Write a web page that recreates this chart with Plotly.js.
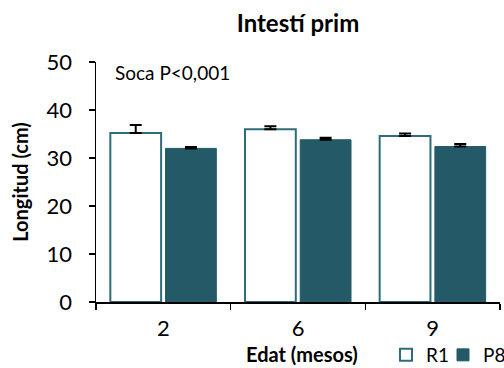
<!DOCTYPE html>
<html>
<head>
<meta charset="utf-8">
<script src="https://cdn.plot.ly/plotly-3.0.1.min.js"></script>
<style>html,body{margin:0;padding:0;background:#fff;}#chart{width:504px;height:368px;}</style>
</head>
<body>
<div id="chart"></div>
<script>
const categories = ['2', '6', '9'];
const r1Values = [35.2, 36.0, 34.6];
const r1Errors = [1.7, 0.6, 0.5];
const p8Values = [32.0, 33.8, 32.4];
const p8Errors = [0.3, 0.4, 0.5];
const yTicks = [0, 10, 20, 30, 40, 50];

const FONT = 'Lato, "Open Sans", sans-serif';
const teal = '#245a68';
const tealLine = '#2f6c7b';

const traces = [
  {
    type: 'bar', name: 'R1', x: categories, y: r1Values, legend: 'legend',
    marker: {color: '#ffffff', line: {color: tealLine, width: 2}},
    error_y: {type: 'data', array: r1Errors, arrayminus: r1Errors.map(() => 0), symmetric: false,
              color: '#000', thickness: 2, width: 6}
  },
  {
    type: 'bar', name: 'P8', x: categories, y: p8Values, legend: 'legend2',
    marker: {color: teal, line: {color: teal, width: 1}},
    error_y: {type: 'data', array: p8Errors, arrayminus: p8Errors.map(() => 0), symmetric: false,
              color: '#000', thickness: 2, width: 6}
  }
];

const legendCommon = {
  orientation: 'h', xref: 'container', yref: 'container', xanchor: 'left', y: 1 - 355/368, yanchor: 'middle',
  font: {family: FONT, size: 19, color: '#000'}, itemwidth: 30, tracegroupgap: 0,
  bgcolor: 'rgba(0,0,0,0)'
};

const layout = {
  width: 504, height: 368,
  margin: {l: 96, r: 4, t: 62, b: 66, autoexpand: false},
  paper_bgcolor: '#fff', plot_bgcolor: '#fff',
  font: {family: FONT, color: '#000', size: 18},
  barmode: 'group', bargap: 0.18, bargroupgap: 0.08,
  showlegend: true,
  title: {text: '<b>Intestí prim</b>', font: {family: FONT, size: 24, color: '#000'},
          x: 0.5, xref: 'paper', xanchor: 'center', y: 1 - 24/368, yref: 'container', yanchor: 'middle'},
  xaxis: {
    type: 'category', tickson: 'boundaries', ticks: 'outside', ticklen: 6, tickwidth: 1.5, tickcolor: '#000',
    showline: true, linecolor: '#000', linewidth: 1.5, showgrid: false, zeroline: false,
    tickfont: {family: FONT, size: 22, color: '#000'}, ticklabelstandoff: 6
  },
  yaxis: {
    range: [0, 50], tickvals: yTicks, ticktext: yTicks.map(String),
    ticks: 'outside', ticklen: 6, tickwidth: 1.5, tickcolor: '#000',
    showline: true, linecolor: '#000', linewidth: 1.5, showgrid: false, zeroline: false,
    tickfont: {family: FONT, size: 22, color: '#000'}, ticklabelstandoff: 12,
    title: {text: '<b>Longitud (cm)</b>', font: {family: FONT, size: 20, color: '#000'}, standoff: 12}
  },
  legend: Object.assign({}, legendCommon, {x: 386/504}),
  legend2: Object.assign({}, legendCommon, {x: 443/504}),
  annotations: [
    {
      text: 'Soca P<0,001', xref: 'paper', yref: 'paper', x: (113 - 96) / 404, y: (302 - 73) / 240,
      xanchor: 'left', yanchor: 'middle', showarrow: false, font: {family: FONT, size: 19, color: '#000'}
    },
    {
      text: '<b>Edat (mesos)</b>', xref: 'paper', yref: 'paper', x: (302 - 96) / 404, y: (302 - 354) / 240,
      xanchor: 'center', yanchor: 'middle', showarrow: false, font: {family: FONT, size: 20, color: '#000'}
    }
  ]
};

Plotly.newPlot('chart', traces, layout, {displayModeBar: false, staticPlot: true});
</script>
</body>
</html>
